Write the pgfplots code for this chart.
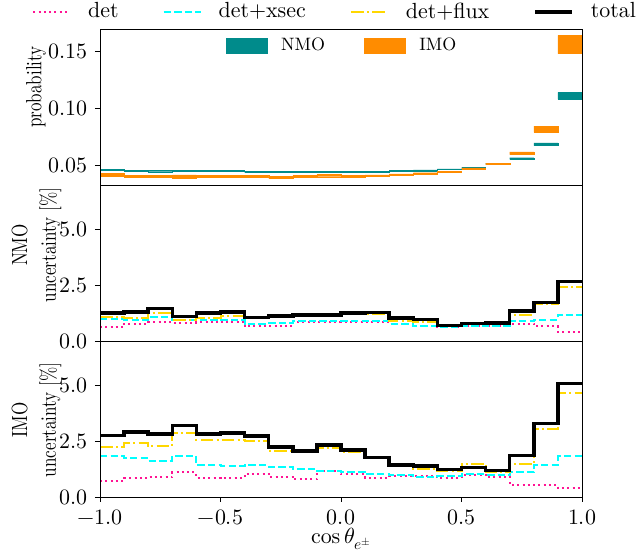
\documentclass[border=0pt]{standalone}
\usepackage{fontspec}
\setmainfont{lmroman10-regular.otf}[BoldFont=lmroman10-bold.otf, ItalicFont=lmroman10-italic.otf, BoldItalicFont=lmroman10-bolditalic.otf]
\usepackage{unicode-math}
\setmathfont{latinmodern-math.otf}
\usepackage{graphicx}
\usepackage{pgfplots}
\pgfplotsset{compat=1.18}
\usepackage{pgfplotstable}
\definecolor{cdet}{HTML}{FF1493}
\definecolor{cxsec}{HTML}{00FFFF}
\definecolor{cflux}{HTML}{FFD700}
\definecolor{cnmo}{HTML}{008B8B}
\definecolor{cimo}{HTML}{FF8C00}
\newcommand{\sq}[1]{\scalebox{0.78}[1]{#1}}

\pgfplotstableread{
x    nd   nx   nf   nt   id   ix   ifl  it
-1.0 0.62 0.97 1.08 1.26 0.73 1.82 2.24 2.76
-0.9 0.77 0.96 1.03 1.31 0.84 1.74 2.41 2.91
-0.8 0.84 1.08 1.24 1.45 0.88 1.62 2.27 2.83
-0.7 0.82 0.93 0.96 1.10 1.10 1.85 2.85 3.21
-0.6 0.84 0.93 1.05 1.26 0.86 1.42 2.55 2.83
-0.5 0.87 0.96 1.13 1.29 0.87 1.39 2.56 2.88
-0.4 0.67 0.77 1.04 1.06 1.04 1.45 2.53 2.73
-0.3 0.67 0.81 1.07 1.13 0.91 1.36 2.07 2.24
-0.2 0.85 0.88 1.10 1.16 0.80 1.27 2.01 2.06
-0.1 0.85 0.90 1.21 1.17 1.18 1.16 2.22 2.33
0.0  0.85 0.90 1.29 1.26 1.01 1.13 2.00 2.10
0.1  0.85 0.90 1.22 1.27 0.87 1.04 1.78 1.77
0.2  0.77 0.78 0.89 1.03 0.93 0.99 1.48 1.43
0.3  0.69 0.69 0.84 0.96 0.93 0.89 1.27 1.40
0.4  0.65 0.63 0.70 0.70 0.86 0.92 1.16 1.23
0.5  0.66 0.66 0.75 0.78 1.00 1.01 1.48 1.32
0.6  0.67 0.67 0.78 0.81 0.90 0.99 1.13 1.20
0.7  0.78 0.91 1.17 1.34 0.55 1.11 1.46 1.86
0.8  0.66 0.96 1.65 1.72 0.54 1.43 3.06 3.30
0.9  0.41 1.18 2.43 2.66 0.41 1.83 4.68 5.10
1.0  0.41 1.18 2.43 2.66 0.41 1.83 4.68 5.10
}\unc

\pgfplotsset{
  panel/.style={
    scale only axis, width=482bp, height=156bp,
    xmin=-1, xmax=1, anchor=south west,
    axis on top,
    axis line style={line width=0.8bp, black},
    tick style={line width=0.8bp, black},
    tick align=outside, major tick length=5bp,
    ytick pos=left, xtick pos=bottom,
    scaled ticks=false,
    ticklabel style={font=\fontsize{22}{26}\selectfont},
    ylabel style={font=\fontsize{22}{29}\selectfont, align=center, anchor=center},
    xlabel style={font=\fontsize{22}{26}\selectfont, yshift=11bp},
  },
  sdet/.style={cdet, line width=2bp, dash pattern=on 2bp off 3.3bp, line cap=butt},
  sxsec/.style={cxsec, line width=2bp, dash pattern=on 7.4bp off 3.2bp, line cap=butt},
  sflux/.style={cflux, line width=2bp, dash pattern=on 12.8bp off 3.2bp on 2bp off 3.2bp, line cap=butt},
  stot/.style={black, line width=3.5bp},
}

\begin{document}
\fontsize{22}{26}\selectfont
\begin{tikzpicture}
\path (0bp,0bp) rectangle (636bp,550bp);

% ---------------- top panel ----------------
\begin{axis}[panel, at={(100bp,365bp)},
  ymin=0.0324, ymax=0.1695, ytick={0.05,0.10,0.15},
  yticklabel style={/pgf/number format/.cd, fixed, fixed zerofill, precision=2},
  xtick=\empty,
  ylabel={\sq{probability}},
  ylabel style={at={(axis description cs:-0.133,0.628)}},
  unbounded coords=jump,
  legend image code/.code={\fill[#1] (0bp,-7.5bp) rectangle (41bp,7.5bp); \path (55bp,0bp);},
  legend cell align=left,
  legend style={at={(axis description cs:0.5,0.894)}, anchor=center, draw=none, fill=none,
    font=\fontsize{18}{22}\selectfont, legend columns=2,
    inner sep=0pt, column sep=0pt, nodes={inner sep=0pt}},
]
\addplot[fill=cnmo, draw=cnmo, line width=0.4bp] coordinates {
(-1.0,0.04503) (-0.9,0.04503) (-0.9,0.04617) (-1.0,0.04617) (-1.0,nan)
(-0.9,0.04411) (-0.8,0.04411) (-0.8,0.04529) (-0.9,0.04529) (-0.9,nan)
(-0.8,0.04405) (-0.7,0.04405) (-0.7,0.04535) (-0.8,0.04535) (-0.8,nan)
(-0.7,0.04421) (-0.6,0.04421) (-0.6,0.04519) (-0.7,0.04519) (-0.7,nan)
(-0.6,0.04414) (-0.5,0.04414) (-0.5,0.04526) (-0.6,0.04526) (-0.6,nan)
(-0.5,0.04412) (-0.4,0.04412) (-0.4,0.04528) (-0.5,0.04528) (-0.5,nan)
(-0.4,0.04334) (-0.3,0.04334) (-0.3,0.04426) (-0.4,0.04426) (-0.4,nan)
(-0.3,0.04331) (-0.2,0.04331) (-0.2,0.04430) (-0.3,0.04430) (-0.3,nan)
(-0.2,0.04329) (-0.1,0.04329) (-0.1,0.04431) (-0.2,0.04431) (-0.2,nan)
(-0.1,0.04328) (0.0,0.04328) (0.0,0.04432) (-0.1,0.04432) (-0.1,nan)
(0.0,0.04325) (0.1,0.04325) (0.1,0.04435) (0.0,0.04435) (0.0,nan)
(0.1,0.04324) (0.2,0.04324) (0.2,0.04436) (0.1,0.04436) (0.1,nan)
(0.2,0.04454) (0.3,0.04454) (0.3,0.04546) (0.2,0.04546) (0.2,nan)
(0.3,0.04487) (0.4,0.04487) (0.4,0.04573) (0.3,0.04573) (0.3,nan)
(0.4,0.04588) (0.5,0.04588) (0.5,0.04652) (0.4,0.04652) (0.4,nan)
(0.5,0.04723) (0.6,0.04723) (0.6,0.04797) (0.5,0.04797) (0.5,nan)
(0.6,0.05049) (0.7,0.05049) (0.7,0.05131) (0.6,0.05131) (0.6,nan)
(0.7,0.05486) (0.8,0.05486) (0.8,0.05635) (0.7,0.05635) (0.7,nan)
(0.8,0.06703) (0.9,0.06703) (0.9,0.06937) (0.8,0.06937) (0.8,nan)
(0.9,0.10795) (1.0,0.10795) (1.0,0.11385) (0.9,0.11385)
};
\addlegendentry{NMO\hspace*{39bp}}
\addplot[fill=cimo, draw=cimo, line width=0.4bp] coordinates {
(-1.0,0.04006) (-0.9,0.04006) (-0.9,0.04234) (-1.0,0.04234) (-1.0,nan)
(-0.9,0.03884) (-0.8,0.03884) (-0.8,0.04116) (-0.9,0.04116) (-0.9,nan)
(-0.8,0.03887) (-0.7,0.03887) (-0.7,0.04113) (-0.8,0.04113) (-0.8,nan)
(-0.7,0.03872) (-0.6,0.03872) (-0.6,0.04128) (-0.7,0.04128) (-0.7,nan)
(-0.6,0.03887) (-0.5,0.03887) (-0.5,0.04113) (-0.6,0.04113) (-0.6,nan)
(-0.5,0.03885) (-0.4,0.03885) (-0.4,0.04115) (-0.5,0.04115) (-0.5,nan)
(-0.4,0.03891) (-0.3,0.03891) (-0.3,0.04109) (-0.4,0.04109) (-0.4,nan)
(-0.3,0.03822) (-0.2,0.03822) (-0.2,0.03998) (-0.3,0.03998) (-0.3,nan)
(-0.2,0.03918) (-0.1,0.03918) (-0.1,0.04082) (-0.2,0.04082) (-0.2,nan)
(-0.1,0.03965) (0.0,0.03965) (0.0,0.04155) (-0.1,0.04155) (-0.1,nan)
(0.0,0.03916) (0.1,0.03916) (0.1,0.04084) (0.0,0.04084) (0.0,nan)
(0.1,0.03988) (0.2,0.03988) (0.2,0.04132) (0.1,0.04132) (0.1,nan)
(0.2,0.04091) (0.3,0.04091) (0.3,0.04209) (0.2,0.04209) (0.2,nan)
(0.3,0.04200) (0.4,0.04200) (0.4,0.04320) (0.3,0.04320) (0.3,nan)
(0.4,0.04356) (0.5,0.04356) (0.5,0.04464) (0.4,0.04464) (0.4,nan)
(0.5,0.04618) (0.6,0.04618) (0.6,0.04742) (0.5,0.04742) (0.5,nan)
(0.6,0.05029) (0.7,0.05029) (0.7,0.05151) (0.6,0.05151) (0.6,nan)
(0.7,0.05918) (0.8,0.05918) (0.8,0.06142) (0.7,0.06142) (0.7,nan)
(0.8,0.07881) (0.9,0.07881) (0.9,0.08419) (0.8,0.08419) (0.8,nan)
(0.9,0.14795) (1.0,0.14795) (1.0,0.16385) (0.9,0.16385)
};
\addlegendentry{IMO}
\end{axis}

% ---------------- middle panel ----------------
\begin{axis}[panel, at={(100bp,209bp)},
  ymin=0, ymax=7, ytick={0,2.5,5},
  yticklabel style={/pgf/number format/.cd, fixed, fixed zerofill, precision=1},
  xtick=\empty, const plot,
  ylabel={\sq{NMO}\\\sq{uncertainty [\%]}},
  ylabel style={at={(axis description cs:-0.1317,0.615)}},
  legend image code/.code={\draw[#1] (0bp,0bp) -- (37bp,0bp); \path (54bp,0bp);},
  legend cell align=left,
  legend style={at={(axis description cs:-0.141,2.109)}, anchor=west, draw=none, fill=none,
    font=\fontsize{22}{26}\selectfont, legend columns=4,
    inner sep=0pt, column sep=0pt, nodes={inner sep=0pt}},
]
\addplot[sdet] table[x=x, y=nd] {\unc};
\addlegendentry{det\hspace*{44bp}}
\addplot[sxsec] table[x=x, y=nx] {\unc};
\addlegendentry{det+xsec\hspace*{44bp}}
\addplot[sflux] table[x=x, y=nf] {\unc};
\addlegendentry{det+flux\hspace*{44bp}}
\addplot[stot] table[x=x, y=nt] {\unc};
\addlegendentry{total}
\end{axis}

% ---------------- bottom panel ----------------
\begin{axis}[panel, at={(100bp,53bp)},
  ymin=0, ymax=7, ytick={0,2.5,5},
  yticklabel style={/pgf/number format/.cd, fixed, fixed zerofill, precision=1},
  xtick={-1,-0.5,0,0.5,1},
  xticklabel style={/pgf/number format/.cd, fixed, fixed zerofill, precision=1},
  const plot,
  ylabel={\sq{IMO}\\\sq{uncertainty [\%]}},
  ylabel style={at={(axis description cs:-0.1317,0.494)}},
  xlabel={$\cos\theta_{e^{\pm}}$},
]
\addplot[sdet] table[x=x, y=id] {\unc};
\addplot[sxsec] table[x=x, y=ix] {\unc};
\addplot[sflux] table[x=x, y=ifl] {\unc};
\addplot[stot] table[x=x, y=it] {\unc};
\end{axis}
\end{tikzpicture}
\end{document}
